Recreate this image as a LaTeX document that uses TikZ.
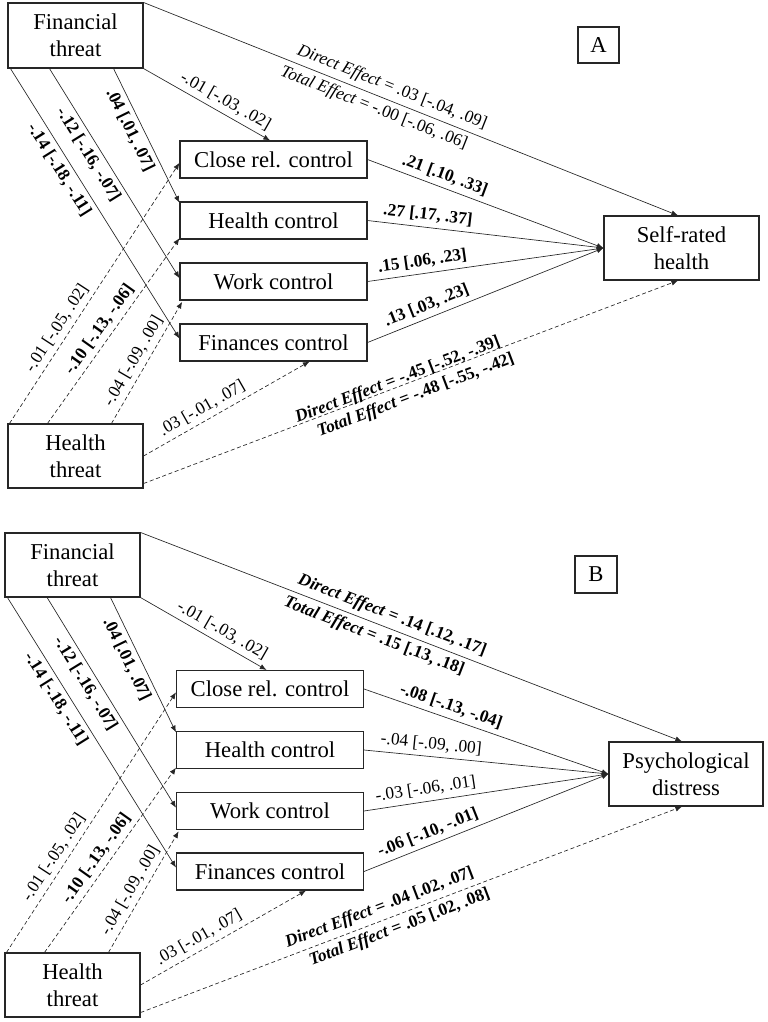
\documentclass[tikz,border=0pt]{standalone}
\usepackage{fontspec}
\setmainfont{Liberation Serif}
\usetikzlibrary{arrows.meta}
\begin{document}
\begin{tikzpicture}[x=0.75pt,y=-0.75pt,
  box/.style={draw=black!85, line width=0.8pt, inner sep=0pt, align=center, font=\fontsize{17}{20}\selectfont},
  bx/.style 2 args={minimum width=#1*0.75pt, minimum height=#2*0.75pt},
  lbl/.style={font=\fontsize{13}{15}\selectfont, sloped, inner sep=1.5pt},
  arr/.style={-{Latex[length=5pt,width=4pt]}, line width=0.5pt, draw=black!85},
  dsh/.style={arr, dash pattern=on 3pt off 2pt}]
\useasboundingbox (0,0) rectangle (768,1022);

% ---------------- Panel A ----------------
\node[box, bx={135}{65}] (ftA) at (75.5,35.5) {Financial\\threat};
\node[box, bx={187}{37}] (crA) at (273.5,159.5) {Close rel. control};
\node[box, bx={187}{37}] (hcA) at (273.5,220.5) {Health control};
\node[box, bx={187}{37}] (wcA) at (273.5,281.5) {Work control};
\node[box, bx={187}{37}] (fcA) at (273.5,342.5) {Finances control};
\node[box, bx={155}{64}] (srA) at (681.5,248) {Self-rated\\health};
\node[box, bx={41}{36}] (labA) at (598.5,45) {A};
\node[box, bx={135}{64}] (htA) at (75.5,456) {Health\\threat};

\draw[arr] (ftA.north east) -- ([xshift=-2.6pt]srA.north)
  node[lbl, pos=0.456, above=2pt] {\textit{Direct Effect} = .03 [-.04, .09]}
  node[lbl, pos=0.44, below=2pt] {\textit{Total Effect} = -.00 [-.06, .06]};
\draw[arr] (ftA.south east) -- ([xshift=-2.6pt]crA.north)
  node[lbl, pos=0.60, above=2pt] {-.01 [-.03, .02]};
\draw[arr] ([xshift=-22.5pt]ftA.south east) -- ([yshift=-1pt]hcA.north west)
  node[lbl, pos=0.42, below=2pt] {\textbf{.04 [.01, .07]}};
\draw[arr] ([xshift=31.5pt]ftA.south west) -- ([yshift=2.5pt]wcA.west)
  node[lbl, pos=0.38, below=2pt] {\textbf{-.12 [-.16, -.07]}};
\draw[arr] ([xshift=2.25pt]ftA.south west) -- ([yshift=3pt]fcA.west)
  node[lbl, pos=0.35, below=2pt] {\textbf{-.14 [-.18, -.11]}};

\draw[dsh] ([xshift=1.5pt]htA.north west) -- ([yshift=-2.5pt]crA.west)
  node[lbl, pos=0.34, above=2pt] {-.01 [-.05, .02]};
\draw[dsh] ([xshift=30pt]htA.north west) -- ([yshift=1pt]hcA.south west)
  node[lbl, pos=0.47, above=2pt] {\textbf{-.10 [-.13, -.06]}};
\draw[dsh] ([xshift=78pt]htA.north west) -- ([xshift=2pt,yshift=-1pt]wcA.south west)
  node[lbl, pos=0.46, above=2pt] {-.04 [-.09, .00]};
\draw[dsh] (htA.east) -- ([xshift=27pt]fcA.south)
  node[lbl, pos=0.39, above=2pt] {.03 [-.01, .07]};
\draw[dsh] ([yshift=3.75pt]htA.south east) -- ([xshift=-2.6pt]srA.south)
  node[lbl, pos=0.48, above=-3pt] {\textbf{\textit{Direct Effect} = -.45 [-.52, -.39]}}
  node[lbl, pos=0.50, below=3pt] {\textbf{\textit{Total Effect} = -.48 [-.55, -.42]}};

\draw[arr] (crA.east) -- (srA.west)
  node[lbl, pos=0.31, above=2pt] {\textbf{.21 [.10, .33]}};
\draw[arr] (hcA.east) -- (srA.west)
  node[lbl, pos=0.25, above=2pt] {\textbf{.27 [.17, .37]}};
\draw[arr] (wcA.east) -- (srA.west)
  node[lbl, pos=0.24, above=2pt] {\textbf{.15 [.06, .23]}};
\draw[arr] (fcA.east) -- (srA.west)
  node[lbl, pos=0.27, above=2pt] {\textbf{.13 [.03, .23]}};

% ---------------- Panel B ----------------
\node[box, bx={135}{64}] (ftB) at (72.5,565) {Financial\\threat};
\node[box, bx={187}{37}] (crB) at (270,689) {Close rel. control};
\node[box, bx={187}{37}] (hcB) at (270,750) {Health control};
\node[box, bx={187}{37}] (wcB) at (270,811) {Work control};
\node[box, bx={187}{37}] (fcB) at (270,871.5) {Finances control};
\node[box, bx={154}{64}] (pdB) at (686,774) {Psychological\\distress};
\node[box, bx={42}{37}] (labB) at (596,574.5) {B};
\node[box, bx={135}{64}] (htB) at (72.5,985) {Health\\threat};

\draw[arr] (ftB.north east) -- ([xshift=-3pt]pdB.north)
  node[lbl, pos=0.456, above=2pt] {\textbf{\textit{Direct Effect} = .14 [.12, .17]}}
  node[lbl, pos=0.44, below=2pt] {\textbf{\textit{Total Effect} = .15 [.13, .18]}};
\draw[arr] (ftB.south east) -- ([xshift=-2.6pt]crB.north)
  node[lbl, pos=0.60, above=2pt] {-.01 [-.03, .02]};
\draw[arr] ([xshift=-22.5pt]ftB.south east) -- ([yshift=-1pt]hcB.north west)
  node[lbl, pos=0.42, below=2pt] {\textbf{.04 [.01, .07]}};
\draw[arr] ([xshift=32pt]ftB.south west) -- ([yshift=2.5pt]wcB.west)
  node[lbl, pos=0.38, below=2pt] {\textbf{-.12 [-.16, -.07]}};
\draw[arr] ([xshift=2.25pt]ftB.south west) -- ([yshift=3pt]fcB.west)
  node[lbl, pos=0.35, below=2pt] {\textbf{-.14 [-.18, -.11]}};

\draw[dsh] ([xshift=1.5pt]htB.north west) -- ([yshift=-2.5pt]crB.west)
  node[lbl, pos=0.34, above=2pt] {-.01 [-.05, .02]};
\draw[dsh] ([xshift=30pt]htB.north west) -- ([yshift=1pt]hcB.south west)
  node[lbl, pos=0.47, above=2pt] {\textbf{-.10 [-.13, -.06]}};
\draw[dsh] ([xshift=78pt]htB.north west) -- ([xshift=2pt,yshift=-1pt]wcB.south west)
  node[lbl, pos=0.46, above=2pt] {-.04 [-.09, .00]};
\draw[dsh] (htB.east) -- ([xshift=27pt]fcB.south)
  node[lbl, pos=0.39, above=2pt] {.03 [-.01, .07]};
\draw[dsh] ([yshift=3.75pt]htB.south east) -- ([xshift=-3pt]pdB.south)
  node[lbl, pos=0.45, above=2pt] {\textbf{\textit{Direct Effect} = .04 [.02, .07]}}
  node[lbl, pos=0.47, below=2pt] {\textbf{\textit{Total Effect} = .05 [.02, .08]}};

\draw[arr] (crB.east) -- (pdB.west)
  node[lbl, pos=0.34, above=2pt] {\textbf{-.08 [-.13, -.04]}};
\draw[arr] (hcB.east) -- (pdB.west)
  node[lbl, pos=0.27, above=2pt] {-.04 [-.09, .00]};
\draw[arr] (wcB.east) -- (pdB.west)
  node[lbl, pos=0.26, above=2pt] {-.03 [-.06, .01]};
\draw[arr] (fcB.east) -- (pdB.west)
  node[lbl, pos=0.28, above=2pt] {\textbf{-.06 [-.10, -.01]}};
\end{tikzpicture}
\end{document}
